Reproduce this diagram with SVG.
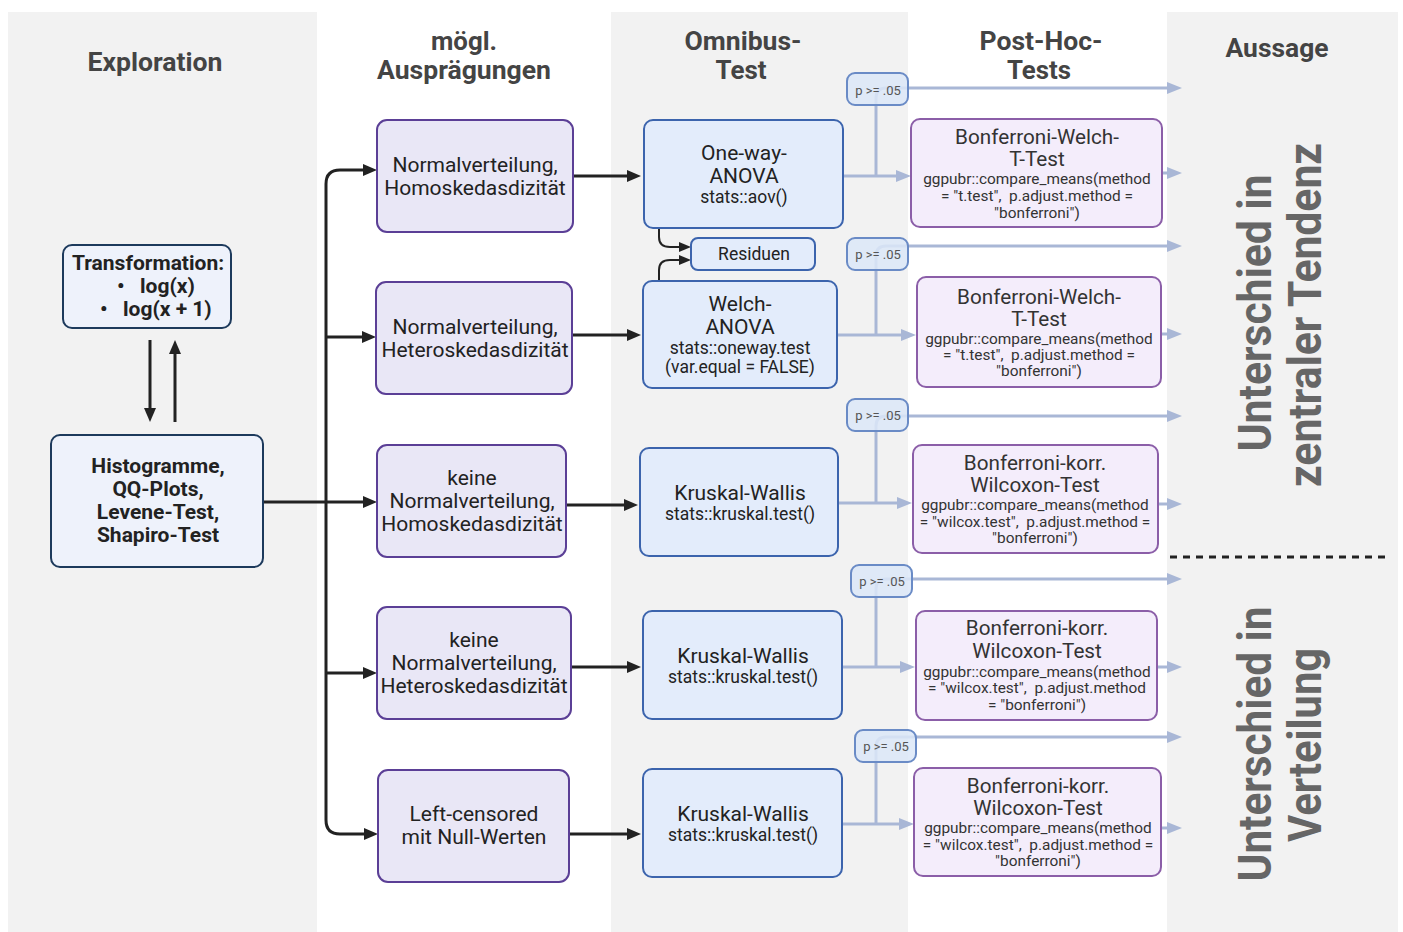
<svg xmlns="http://www.w3.org/2000/svg" width="1403" height="932" viewBox="0 0 1403 932">
<defs>
<style>
text{font-family:Roboto,"Liberation Sans",sans-serif}
.hdr{font-size:25px;font-weight:bold;fill:#444;text-anchor:middle}
.side{font-size:46px;font-weight:bold;fill:#666;text-anchor:middle}
.ex{fill:#eef2fb;stroke:#1d3a5c;stroke-width:2}
.ext{font-size:21px;font-weight:bold;fill:#222;text-anchor:middle}
.n2{fill:#e9e7f6;stroke:#5b3f96;stroke-width:2}
.n2t{font-size:21px;fill:#222;text-anchor:middle}
.om{fill:#e3ecfb;stroke:#3c64ad;stroke-width:2}
.omt{font-size:21px;fill:#222;text-anchor:middle}
.omc{font-size:17.5px;fill:#222;text-anchor:middle}
.pb{fill:#dce7f8;fill-opacity:0.85;stroke:#6a8bc6;stroke-width:2}
.pt{font-size:13px;fill:#555;text-anchor:middle}
.ph{fill:#f4edfb;stroke:#8b5ea8;stroke-width:2}
.pht{font-size:20.7px;fill:#333;text-anchor:middle}
.phc{font-size:15.4px;fill:#333;text-anchor:middle;white-space:pre}
.bk{fill:none;stroke:#222;stroke-width:3}
.lt{fill:none;stroke:#a9b7d6;stroke-width:3}
</style>
<marker id="ab" markerUnits="userSpaceOnUse" markerWidth="14" markerHeight="12" refX="0" refY="6" orient="auto"><path d="M0,0 L14,6 L0,12 z" fill="#222"/></marker>
<marker id="as" markerUnits="userSpaceOnUse" markerWidth="12" markerHeight="10" refX="0" refY="5" orient="auto"><path d="M0,0 L12,5 L0,10 z" fill="#222"/></marker>
<marker id="al" markerUnits="userSpaceOnUse" markerWidth="15" markerHeight="12" refX="0" refY="6" orient="auto"><path d="M0,0 L15,6 L0,12 z" fill="#a9b7d6"/></marker>
</defs>

<g id="background">
<rect x="0" y="0" width="1403" height="932" fill="#ffffff"/>
<rect x="8" y="12" width="309" height="920" fill="#f2f2f2"/>
<rect x="611" y="12" width="297" height="920" fill="#f2f2f2"/>
<rect x="1167" y="12" width="231" height="920" fill="#f2f2f2"/>
</g>

<g id="headers">
<text class="hdr" x="155" y="71" textLength="135" lengthAdjust="spacingAndGlyphs">Exploration</text>
<text class="hdr" x="464" y="50" textLength="66" lengthAdjust="spacingAndGlyphs">mögl.</text>
<text class="hdr" x="464" y="79" textLength="174" lengthAdjust="spacingAndGlyphs">Ausprägungen</text>
<text class="hdr" x="743" y="50" textLength="117" lengthAdjust="spacingAndGlyphs">Omnibus-</text>
<text class="hdr" x="741" y="79" textLength="51" lengthAdjust="spacingAndGlyphs">Test</text>
<text class="hdr" x="1041" y="50" textLength="123" lengthAdjust="spacingAndGlyphs">Post-Hoc-</text>
<text class="hdr" x="1039" y="79" textLength="64" lengthAdjust="spacingAndGlyphs">Tests</text>
<text class="hdr" x="1277" y="57" textLength="103" lengthAdjust="spacingAndGlyphs">Aussage</text>
</g>

<g id="connectors">
<path class="bk" d="M150,340 V408" marker-end="url(#ab)"/>
<path class="bk" d="M175,422 V354" marker-end="url(#ab)"/>
<path class="bk" d="M263,502 H363" marker-end="url(#ab)"/>
<path class="bk" d="M326,502 V184 Q326,170 340,170 H363" marker-end="url(#ab)"/>
<path class="bk" d="M326,502 V820 Q326,834 340,834 H364" marker-end="url(#ab)"/>
<path class="bk" d="M326,337 H362" marker-end="url(#ab)"/>
<path class="bk" d="M326,673 H363" marker-end="url(#ab)"/>
<path class="bk" d="M573,176 H627" marker-end="url(#ab)"/>
<path class="bk" d="M572,335 H627" marker-end="url(#ab)"/>
<path class="bk" d="M566,505 H624" marker-end="url(#ab)"/>
<path class="bk" d="M571,667 H627" marker-end="url(#ab)"/>
<path class="bk" d="M569,834 H627" marker-end="url(#ab)"/>
<path class="bk" style="stroke-width:2" d="M659,228 V237 Q659,247 670,247 H679" marker-end="url(#as)"/>
<path class="bk" style="stroke-width:2" d="M659,281 V270 Q659,260 670,260 H679" marker-end="url(#as)"/>

<path class="lt" d="M843,176 H896" marker-end="url(#al)"/>
<path class="lt" d="M876,176 V98 Q876,88 886,88 H1167" marker-end="url(#al)"/>
<path class="lt" d="M837,335 H901" marker-end="url(#al)"/>
<path class="lt" d="M876,335 V256 Q876,246 886,246 H1167" marker-end="url(#al)"/>
<path class="lt" d="M838,503 H897" marker-end="url(#al)"/>
<path class="lt" d="M876,503 V426 Q876,416 886,416 H1167" marker-end="url(#al)"/>
<path class="lt" d="M842,667 H900" marker-end="url(#al)"/>
<path class="lt" d="M876,667 V589 Q876,579 886,579 H1167" marker-end="url(#al)"/>
<path class="lt" d="M842,824 H899" marker-end="url(#al)"/>
<path class="lt" d="M876,824 V747 Q876,737 886,737 H1167" marker-end="url(#al)"/>
<path class="lt" d="M1140,173 H1167" marker-end="url(#al)"/>
<path class="lt" d="M1140,334 H1167" marker-end="url(#al)"/>
<path class="lt" d="M1140,504 H1167" marker-end="url(#al)"/>
<path class="lt" d="M1140,667 H1167" marker-end="url(#al)"/>
<path class="lt" d="M1140,828 H1167" marker-end="url(#al)"/>
<path d="M1170,557 H1386" fill="none" stroke="#222" stroke-width="3" stroke-dasharray="7,6"/>
</g>

<g id="transformation">
<rect class="ex" x="63" y="245" width="168" height="83" rx="9"/>
<text class="ext" x="148" y="270">Transformation:</text>
<text class="ext" style="text-anchor:start" y="293"><tspan x="117">•</tspan><tspan x="140">log(x)</tspan></text>
<text class="ext" style="text-anchor:start" y="316"><tspan x="100">•</tspan><tspan x="123">log(x + 1)</tspan></text>
</g>

<g id="histogramme">
<rect class="ex" x="51" y="435" width="212" height="132" rx="9"/>
<text class="ext" x="158" y="473">Histogramme,</text>
<text class="ext" x="158" y="496">QQ-Plots,</text>
<text class="ext" x="158" y="519">Levene-Test,</text>
<text class="ext" x="158" y="542">Shapiro-Test</text>
</g>

<g id="auspraegung1">
<rect class="n2" x="377" y="120" width="196" height="112" rx="10"/>
<text class="n2t" x="475" y="172">Normalverteilung,</text>
<text class="n2t" x="475" y="195">Homoskedasdizität</text>
</g>
<g id="auspraegung2">
<rect class="n2" x="376" y="282" width="196" height="112" rx="10"/>
<text class="n2t" x="475" y="334">Normalverteilung,</text>
<text class="n2t" x="475" y="357">Heteroskedasdizität</text>
</g>
<g id="auspraegung3">
<rect class="n2" x="377" y="445" width="189" height="112" rx="10"/>
<text class="n2t" x="472" y="485">keine</text>
<text class="n2t" x="472" y="508">Normalverteilung,</text>
<text class="n2t" x="472" y="531">Homoskedasdizität</text>
</g>
<g id="auspraegung4">
<rect class="n2" x="377" y="607" width="194" height="112" rx="10"/>
<text class="n2t" x="474" y="647">keine</text>
<text class="n2t" x="474" y="670">Normalverteilung,</text>
<text class="n2t" x="474" y="693">Heteroskedasdizität</text>
</g>
<g id="auspraegung5">
<rect class="n2" x="378" y="770" width="191" height="112" rx="10"/>
<text class="n2t" x="474" y="821">Left-censored</text>
<text class="n2t" x="474" y="844">mit Null-Werten</text>
</g>

<g id="omnibus1">
<rect class="om" x="644" y="120" width="199" height="108" rx="9"/>
<text class="omt" x="744" y="160">One-way-</text>
<text class="omt" x="744" y="183">ANOVA</text>
<text class="omc" x="744" y="203">stats::aov()</text>
</g>
<g id="residuen">
<rect class="om" x="691" y="238" width="124" height="32" rx="7"/>
<text class="omc" x="754" y="260">Residuen</text>
</g>
<g id="omnibus2">
<rect class="om" x="643" y="281" width="194" height="107" rx="9"/>
<text class="omt" x="740" y="311">Welch-</text>
<text class="omt" x="740" y="334">ANOVA</text>
<text class="omc" x="740" y="354">stats::oneway.test</text>
<text class="omc" x="740" y="373">(var.equal = FALSE)</text>
</g>
<g id="omnibus3">
<rect class="om" x="640" y="448" width="198" height="108" rx="9"/>
<text class="omt" x="740" y="500">Kruskal-Wallis</text>
<text class="omc" x="740" y="520">stats::kruskal.test()</text>
</g>
<g id="omnibus4">
<rect class="om" x="643" y="611" width="199" height="108" rx="9"/>
<text class="omt" x="743" y="663">Kruskal-Wallis</text>
<text class="omc" x="743" y="683">stats::kruskal.test()</text>
</g>
<g id="omnibus5">
<rect class="om" x="643" y="769" width="199" height="108" rx="9"/>
<text class="omt" x="743" y="821">Kruskal-Wallis</text>
<text class="omc" x="743" y="841">stats::kruskal.test()</text>
</g>

<g id="p1"><rect class="pb" x="847" y="73" width="61" height="32" rx="8"/><text class="pt" x="878" y="95">p &gt;= .05</text></g>
<g id="p2"><rect class="pb" x="847" y="238" width="61" height="32" rx="8"/><text class="pt" x="878" y="259">p &gt;= .05</text></g>
<g id="p3"><rect class="pb" x="847" y="399" width="61" height="32" rx="8"/><text class="pt" x="878" y="420">p &gt;= .05</text></g>
<g id="p4"><rect class="pb" x="851" y="565" width="61" height="32" rx="8"/><text class="pt" x="882" y="586">p &gt;= .05</text></g>
<g id="p5"><rect class="pb" x="855" y="730" width="61" height="32" rx="8"/><text class="pt" x="886" y="751">p &gt;= .05</text></g>

<g id="posthoc1">
<rect class="ph" x="911" y="119" width="251" height="108" rx="9"/>
<text class="pht" x="1037" y="144">Bonferroni-Welch-</text>
<text class="pht" x="1037" y="166">T-Test</text>
<text class="phc" x="1037" y="184">ggpubr::compare_means(method</text>
<text class="phc" x="1037" y="201">= "t.test",  p.adjust.method =</text>
<text class="phc" x="1037" y="218">"bonferroni")</text>
</g>
<g id="posthoc2">
<rect class="ph" x="917" y="277" width="244" height="110" rx="9"/>
<text class="pht" x="1039" y="304">Bonferroni-Welch-</text>
<text class="pht" x="1039" y="326">T-Test</text>
<text class="phc" x="1039" y="344">ggpubr::compare_means(method</text>
<text class="phc" x="1039" y="360">= "t.test",  p.adjust.method =</text>
<text class="phc" x="1039" y="376">"bonferroni")</text>
</g>
<g id="posthoc3">
<rect class="ph" x="913" y="445" width="245" height="108" rx="9"/>
<text class="pht" x="1035" y="470">Bonferroni-korr.</text>
<text class="pht" x="1035" y="492">Wilcoxon-Test</text>
<text class="phc" x="1035" y="510">ggpubr::compare_means(method</text>
<text class="phc" x="1035" y="527">= "wilcox.test",  p.adjust.method =</text>
<text class="phc" x="1035" y="543">"bonferroni")</text>
</g>
<g id="posthoc4">
<rect class="ph" x="916" y="611" width="241" height="109" rx="9"/>
<text class="pht" x="1037" y="635">Bonferroni-korr.</text>
<text class="pht" x="1037" y="658">Wilcoxon-Test</text>
<text class="phc" x="1037" y="677">ggpubr::compare_means(method</text>
<text class="phc" x="1037" y="693">= "wilcox.test",  p.adjust.method</text>
<text class="phc" x="1037" y="710">= "bonferroni")</text>
</g>
<g id="posthoc5">
<rect class="ph" x="914" y="768" width="247" height="108" rx="9"/>
<text class="pht" x="1038" y="793">Bonferroni-korr.</text>
<text class="pht" x="1038" y="815">Wilcoxon-Test</text>
<text class="phc" x="1038" y="833">ggpubr::compare_means(method</text>
<text class="phc" x="1038" y="850">= "wilcox.test",  p.adjust.method =</text>
<text class="phc" x="1038" y="866">"bonferroni")</text>
</g>

<g id="aussage">
<text class="side" transform="translate(1271,313) rotate(-90)" textLength="277" lengthAdjust="spacingAndGlyphs">Unterschied in</text>
<text class="side" transform="translate(1321,315) rotate(-90)" textLength="344" lengthAdjust="spacingAndGlyphs">zentraler Tendenz</text>
<text class="side" transform="translate(1271,744) rotate(-90)" textLength="275" lengthAdjust="spacingAndGlyphs">Unterschied in</text>
<text class="side" transform="translate(1321,745) rotate(-90)" textLength="194" lengthAdjust="spacingAndGlyphs">Verteilung</text>
</g>
</svg>
